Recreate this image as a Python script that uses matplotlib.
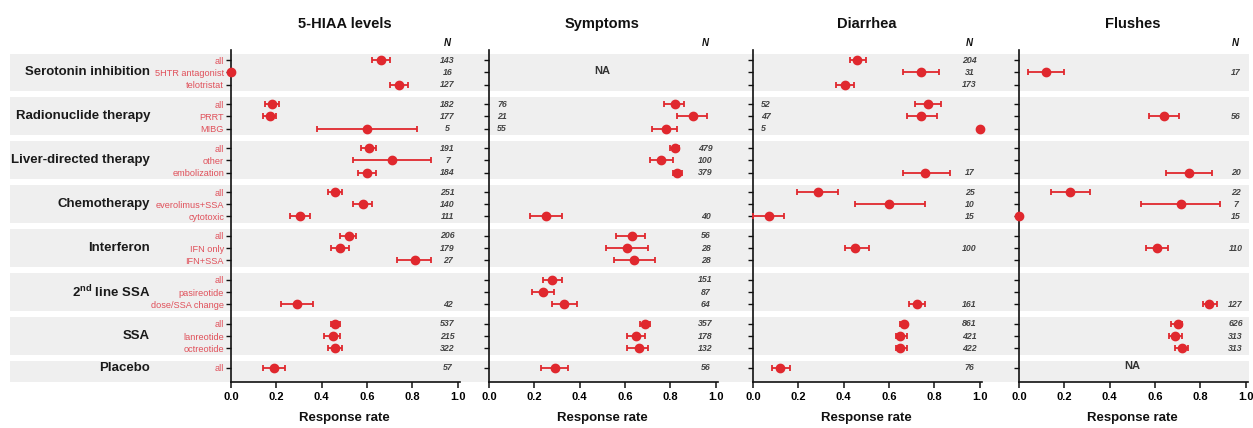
import numpy as np
import matplotlib
matplotlib.use("Agg")
import matplotlib.pyplot as plt
from matplotlib.transforms import blended_transform_factory

plt.rcParams['font.family'] = ['Liberation Sans', 'DejaVu Sans']
plt.rcParams['mathtext.fontset'] = 'custom'
plt.rcParams['mathtext.bf'] = 'Liberation Sans:bold'
plt.rcParams['mathtext.rm'] = 'Liberation Sans:bold'

nan = np.nan

# ---------------- data ----------------
panel_titles = ["5-HIAA levels", "Symptoms", "Diarrhea", "Flushes"]
groups = ["Serotonin inhibition", "Radionuclide therapy", "Liver-directed therapy",
          "Chemotherapy", "Interferon", r"2$^{\mathbf{nd}}$ line SSA", "SSA", "Placebo"]
subgroups = [["all", "5HTR antagonist", "telotristat"],
             ["all", "PRRT", "MIBG"],
             ["all", "other", "embolization"],
             ["all", "everolimus+SSA", "cytotoxic"],
             ["all", "IFN only", "IFN+SSA"],
             ["all", "pasireotide", "dose/SSA change"],
             ["all", "lanreotide", "octreotide"],
             ["all"]]

hiaa_est = [0.66, 0.0, 0.74, 0.18, 0.17, 0.60, 0.61, 0.71, 0.60, 0.46, 0.58, 0.305,
            0.52, 0.48, 0.81, nan, nan, 0.29, 0.46, 0.45, 0.46, 0.19]
hiaa_lo = [0.62, 0.0, 0.70, 0.15, 0.14, 0.38, 0.575, 0.54, 0.56, 0.43, 0.54, 0.26,
           0.48, 0.44, 0.73, nan, nan, 0.22, 0.44, 0.41, 0.43, 0.14]
hiaa_hi = [0.70, 0.0, 0.78, 0.21, 0.20, 0.82, 0.64, 0.88, 0.64, 0.49, 0.62, 0.35,
           0.55, 0.52, 0.88, nan, nan, 0.36, 0.48, 0.48, 0.49, 0.24]
hiaa_n = [143, 16, 127, 182, 177, 5, 191, 7, 184, 251, 140, 111,
          206, 179, 27, None, None, 42, 537, 215, 322, 57]

symp_est = [nan, nan, nan, 0.82, 0.90, 0.78, 0.82, 0.76, 0.83, nan, nan, 0.25,
            0.63, 0.61, 0.64, 0.28, 0.24, 0.33, 0.69, 0.65, 0.66, 0.29]
symp_lo = [nan, nan, nan, 0.77, 0.83, 0.72, 0.80, 0.71, 0.81, nan, nan, 0.18,
           0.56, 0.515, 0.55, 0.24, 0.19, 0.28, 0.665, 0.61, 0.61, 0.23]
symp_hi = [nan, nan, nan, 0.86, 0.96, 0.83, 0.84, 0.81, 0.85, nan, nan, 0.32,
           0.69, 0.70, 0.73, 0.32, 0.285, 0.39, 0.71, 0.69, 0.70, 0.35]
symp_n = [None, None, None, 76, 21, 55, 479, 100, 379, None, None, 40,
          56, 28, 28, 151, 87, 64, 357, 178, 132, 56]

diar_est = [0.46, 0.74, 0.405, 0.77, 0.74, 1.0, nan, nan, 0.76, 0.285, 0.60, 0.07,
            nan, 0.45, nan, nan, nan, 0.725, 0.665, 0.65, 0.65, 0.12]
diar_lo = [0.43, 0.66, 0.365, 0.715, 0.68, 1.0, nan, nan, 0.66, 0.195, 0.45, 0.0,
           nan, 0.405, nan, nan, nan, 0.69, 0.65, 0.63, 0.63, 0.083]
diar_hi = [0.50, 0.82, 0.445, 0.83, 0.81, 1.0, nan, nan, 0.87, 0.375, 0.76, 0.135,
           nan, 0.51, nan, nan, nan, 0.76, 0.68, 0.68, 0.68, 0.163]
diar_n = [204, 31, 173, 52, 47, 5, None, None, 17, 25, 10, 15,
          None, 100, None, None, None, 161, 861, 421, 422, 76]

flush_est = [nan, 0.12, nan, nan, 0.64, nan, nan, nan, 0.75, 0.227, 0.715, 0.0,
             nan, 0.61, nan, nan, nan, 0.84, 0.70, 0.69, 0.72, nan]
flush_lo = [nan, 0.04, nan, nan, 0.575, nan, nan, nan, 0.65, 0.14, 0.54, 0.0,
            nan, 0.56, nan, nan, nan, 0.81, 0.67, 0.66, 0.69, nan]
flush_hi = [nan, 0.20, nan, nan, 0.705, nan, nan, nan, 0.85, 0.315, 0.886, 0.0,
            nan, 0.655, nan, nan, nan, 0.875, 0.72, 0.72, 0.745, nan]
flush_n = [None, 17, None, None, 56, None, None, None, 20, 22, 7, 15,
           None, 110, None, None, None, 127, 626, 313, 313, None]

xticks = [0.0, 0.2, 0.4, 0.6, 0.8, 1.0]
na_groups = {1: [0], 3: [7]}          # panel -> groups marked NA
n_left_groups = {1: [1], 2: [1]}      # panel -> groups whose N is printed on the left

# ---------------- layout ----------------
RED = '#e0282e'
LABRED = '#e0505a'
W, H = 1253, 428
fig = plt.figure(figsize=(W / 100, H / 100), dpi=100)

group_step = 3.6
ypos = []
group_of_row = []
group_center = []
group_span = []
for g, subs in enumerate(subgroups):
    ys = [g * group_step + r for r in range(len(subs))]
    ypos.extend(ys)
    group_of_row.extend([g] * len(subs))
    group_center.append(np.mean(ys))
    group_span.append((ys[0], ys[-1]))
ypos = np.array(ypos)
row_labels = [s for subs in subgroups for s in subs]

ytop, ybot = -0.8, 26.37
ax_bottom = (H - 382) / H
ax_height = (382 - 50.5) / H
lefts_px = [231, 489, 753, 1019]
width_px = 229

# background bands
bg = fig.add_axes([10 / W, ax_bottom, (1249 - 10) / W, ax_height], zorder=0)
bg.set_ylim(ybot, ytop)
bg.set_xlim(0, 1)
bg.axis('off')
for g, (a, b) in enumerate(group_span):
    lo_b = a - 0.55
    hi_b = b + 0.55 if g < len(group_span) - 1 else ybot
    bg.axhspan(lo_b, hi_b, color='#efefef', lw=0)

panels = [(hiaa_est, hiaa_lo, hiaa_hi, hiaa_n),
          (symp_est, symp_lo, symp_hi, symp_n),
          (diar_est, diar_lo, diar_hi, diar_n),
          (flush_est, flush_lo, flush_hi, flush_n)]

axes = []
for p, (est, lo, hi, nn) in enumerate(panels):
    ax = fig.add_axes([lefts_px[p] / W, ax_bottom, width_px / W, ax_height], zorder=2)
    ax.set_facecolor('none')
    axes.append(ax)
    ax.set_xlim(0, 1.01)
    ax.set_ylim(ybot, ytop)
    for s in ['top', 'right']:
        ax.spines[s].set_visible(False)
    for s in ['left', 'bottom']:
        ax.spines[s].set_linewidth(1.2)
        ax.spines[s].set_color('#111')
    ax.set_xticks(xticks)
    ax.set_xticklabels([f"{t:.1f}" for t in xticks], fontsize=8, fontweight='bold')
    ax.tick_params(axis='x', length=4, width=1.1, pad=3, color='#111')
    ax.set_yticks(ypos)
    ax.tick_params(axis='y', length=3.5, width=1.0, pad=1.5, color='#111')
    if p == 0:
        ax.set_yticklabels(row_labels, fontsize=6.6, color=LABRED)
    else:
        ax.set_yticklabels([])

    est = np.array(est, float); lo = np.array(lo, float); hi = np.array(hi, float)
    m = ~np.isnan(est)
    ax.errorbar(est[m], ypos[m], xerr=[est[m] - lo[m], hi[m] - est[m]], fmt='o',
                color=RED, ms=6, capsize=2.4, elinewidth=1.3, capthick=1.3,
                clip_on=False, zorder=5)

    left_groups = n_left_groups.get(p, [])
    for i, v in enumerate(nn):
        if v is None:
            continue
        if group_of_row[i] in left_groups:
            ax.text(0.035, ypos[i], str(v), ha='left', va='center', fontsize=6.3,
                    style='italic', fontweight='bold', color='#444')
        else:
            ax.text(0.955, ypos[i], str(v), ha='center', va='center', fontsize=6.3,
                    style='italic', fontweight='bold', color='#444')

    for g in na_groups.get(p, []):
        ax.text(0.5, group_center[g] - 0.15, "NA", ha='center', va='center',
                fontsize=8, fontweight='bold', color='#333')

    tr = blended_transform_factory(ax.transData, fig.transFigure)
    ax.text(0.955, 1 - 43 / H, "N", transform=tr, ha='center', va='center',
            fontsize=7, style='italic', fontweight='bold', color='#111')
    ax.text(0.5, 1 - 24 / H, panel_titles[p], transform=tr, ha='center', va='center',
            fontsize=10.5, fontweight='bold', color='#111')
    ax.text(0.5, 1 - 418 / H, "Response rate", transform=tr, ha='center', va='center',
            fontsize=9.5, fontweight='bold', color='#111')

# group labels
trg = blended_transform_factory(fig.transFigure, axes[0].transData)
for g, name in enumerate(groups):
    fig.text(150 / W, group_center[g], name, transform=trg, ha='right', va='center',
             fontsize=9.5, fontweight='bold', color='#1a1a1a')

fig.savefig("out.png", dpi=100)
